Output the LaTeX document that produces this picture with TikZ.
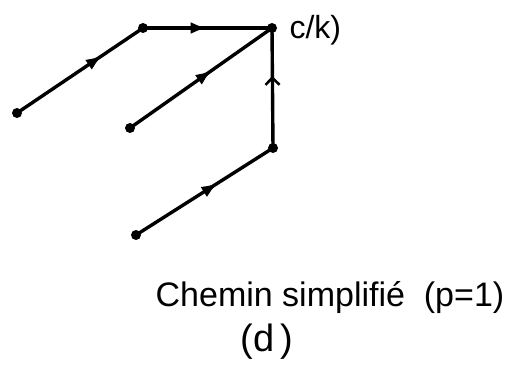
\documentclass[tikz,border=0pt]{standalone}
\usepackage{fontspec}
\setmainfont{Liberation Sans}
\usetikzlibrary{arrows.meta,decorations.markings}

\tikzset{
  pt/.style={circle,fill=black,inner sep=0pt,minimum size=10pt},
  chemin/.style={line width=3.4pt},
  fleche/.style={postaction={decorate,decoration={markings,
      mark=at position #1 with {\arrow{Latex[length=17pt,width=12pt]}}}}},
  fleche/.default=0.55,
  chevron/.style={postaction={decorate,decoration={markings,
      mark=at position #1 with {\arrow[line width=2.6pt]{Straight Barb[length=7pt,width=14pt]}}}}},
}

\begin{document}
\begin{tikzpicture}[x=1pt,y=-1pt]
  \useasboundingbox (0,0) rectangle (505,370);
  % points du chemin
  \node[pt] (A) at (17,113) {};
  \node[pt] (B) at (143,28) {};
  \node[pt] (C) at (272,28) {};
  \node[pt] (D) at (130,128) {};
  \node[pt] (E) at (273,148) {};
  \node[pt] (F) at (136,235) {};
  % branches
  \draw[chemin,fleche=0.68] (A.center) -- (B.center);
  \draw[chemin,fleche=0.5] (B.center) -- (C.center);
  \draw[chemin,fleche=0.58] (D.center) -- (C.center);
  \draw[chemin,fleche=0.6] (F.center) -- (E.center);
  \draw[chemin,chevron=0.6] (E.center) -- (C.center);
  % textes
  \node[anchor=west,font=\fontsize{32}{38}\selectfont] (ck) at (286,30) {c/k)};
  \node[font=\fontsize{34}{40}\selectfont] (titre) at (330,298) {Chemin simplifié\ \ (p=1)};
  \node[font=\fontsize{38}{44}\selectfont] (lettre) at (267,342) {(d\,)};
\end{tikzpicture}
\end{document}
